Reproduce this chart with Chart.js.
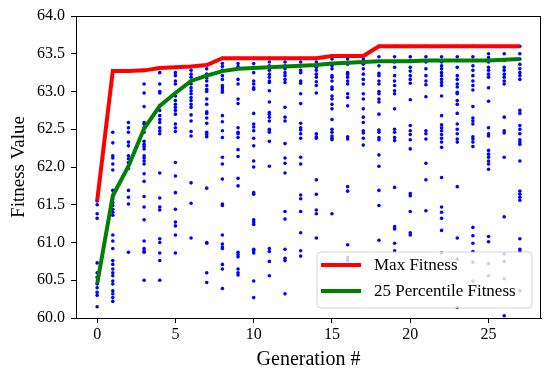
<!DOCTYPE html>
<html>
<head>
<meta charset="utf-8">
<script src="https://cdn.jsdelivr.net/npm/chart.js@4"></script>
<style>
  html, body { margin: 0; padding: 0; background: #fff; }
  #wrap { width: 550px; height: 379px; }
</style>
</head>
<body>
<div id="wrap"><canvas id="myChart" width="550" height="379"></canvas></div>
<script>
var generations = [0,1,2,3,4,5,6,7,8,9,10,11,12,13,14,15,16,17,18,19,20,21,22,23,24,25,26,27];
var xTicks = [0, 5, 10, 15, 20, 25];

var maxFitness = [61.55, 63.27, 63.27, 63.28, 63.31, 63.32, 63.33, 63.35, 63.44, 63.44,
  63.44, 63.44, 63.44, 63.44, 63.44, 63.47, 63.47, 63.47, 63.60, 63.60,
  63.60, 63.60, 63.60, 63.60, 63.60, 63.60, 63.60, 63.60];

var p25Fitness = [60.45, 61.62, 62.01, 62.51, 62.81, 62.98, 63.14, 63.21, 63.27, 63.30,
  63.31, 63.32, 63.33, 63.34, 63.35, 63.37, 63.38, 63.39, 63.40, 63.40,
  63.40, 63.41, 63.41, 63.41, 63.41, 63.41, 63.42, 63.43];

// fitness of every individual, one list per generation
var populationFitness = [
  [61.55, 61.50, 61.38, 61.32, 60.73, 60.60, 60.54, 60.45, 60.40, 60.34, 60.30, 60.15],
  [63.27, 62.46, 62.32, 62.15, 62.12, 62.04, 61.96, 61.69, 61.62, 61.58, 61.53, 61.49, 61.44, 61.40, 61.36, 61.10, 61.02, 60.92, 60.76, 60.71, 60.65, 60.60, 60.56, 60.49, 60.45, 60.36, 60.32, 60.27, 60.22],
  [63.27, 62.59, 62.52, 62.46, 62.33, 62.28, 62.15, 62.11, 62.06, 61.98, 61.69, 61.60, 61.51, 60.87],
  [63.28, 63.10, 62.98, 62.80, 62.59, 62.57, 62.52, 62.46, 62.34, 62.30, 62.27, 62.24, 62.15, 62.12, 62.08, 62.04, 61.91, 61.81, 61.61, 61.47, 61.30, 61.02, 60.92, 60.89, 60.87, 60.50],
  [63.31, 63.25, 63.10, 63.00, 62.98, 62.81, 62.75, 62.68, 62.63, 62.59, 62.52, 62.48, 62.44, 61.92, 61.59, 61.47, 61.43, 61.05, 61.00, 60.86, 60.76, 60.50],
  [63.32, 63.25, 63.21, 63.14, 63.10, 62.94, 62.88, 62.83, 62.79, 62.75, 62.70, 62.57, 62.52, 62.47, 62.06, 61.88, 61.66, 61.44, 61.27, 61.22, 61.10, 60.86],
  [63.33, 63.28, 63.23, 63.19, 63.14, 63.10, 63.05, 63.01, 62.97, 62.92, 62.88, 62.83, 62.79, 62.69, 62.61, 62.47, 62.41, 61.79, 61.52, 61.06],
  [63.35, 63.30, 63.23, 63.18, 63.14, 63.08, 63.03, 63.00, 62.90, 62.83, 62.73, 62.71, 62.65, 62.58, 62.46, 62.43, 62.40, 61.72, 61.00, 60.99, 60.60, 60.47],
  [63.44, 63.37, 63.33, 63.28, 63.21, 63.16, 63.08, 63.05, 63.02, 62.99, 62.68, 62.60, 62.48, 62.39, 62.13, 62.04, 61.84, 61.51, 61.49, 61.10, 60.98, 60.94, 60.92, 60.71, 60.65, 60.39],
  [63.44, 63.37, 63.33, 63.16, 63.10, 62.90, 62.84, 62.52, 62.46, 62.44, 62.39, 62.23, 62.14, 61.85, 61.75, 60.87, 60.84, 60.81, 60.65, 60.60, 60.57],
  [63.44, 63.37, 63.32, 63.25, 63.14, 63.10, 63.05, 63.03, 62.71, 62.57, 62.53, 62.48, 62.38, 62.28, 62.08, 62.00, 61.66, 61.64, 61.30, 61.27, 61.24, 60.91, 60.89, 60.86, 60.49, 60.27],
  [63.44, 63.39, 63.34, 63.28, 63.23, 63.19, 63.14, 63.12, 63.01, 62.86, 62.72, 62.70, 62.66, 62.61, 62.50, 62.48, 62.46, 62.34, 62.01, 60.92, 60.88, 60.75, 60.56],
  [63.44, 63.39, 63.34, 63.30, 63.25, 63.21, 63.16, 63.12, 62.79, 62.66, 62.61, 62.31, 62.12, 62.05, 61.92, 61.41, 61.31, 60.91, 60.79, 60.76, 60.32],
  [63.44, 63.39, 63.34, 63.28, 63.25, 63.14, 63.11, 62.97, 62.84, 62.58, 62.52, 62.49, 62.44, 62.38, 62.13, 62.04, 61.63, 61.58, 61.41, 61.13, 60.89, 60.82],
  [63.44, 63.39, 63.32, 63.28, 63.23, 63.19, 63.13, 63.08, 62.98, 62.44, 62.40, 62.38, 61.83, 61.64, 61.43, 61.38, 61.06],
  [63.47, 63.43, 63.34, 63.30, 63.21, 63.19, 63.14, 63.06, 63.03, 62.94, 62.90, 62.83, 62.77, 62.63, 62.50, 62.46, 62.41, 62.38, 62.36, 61.38],
  [63.47, 63.43, 63.36, 63.25, 63.23, 63.19, 63.14, 63.10, 62.97, 62.92, 62.81, 62.40, 62.37, 61.74, 61.68, 60.97, 60.80, 60.76],
  [63.47, 63.43, 63.36, 63.30, 63.23, 63.16, 63.10, 62.97, 62.90, 62.77, 62.66, 62.59, 62.48, 62.45, 62.38, 62.29],
  [63.60, 63.46, 63.34, 63.24, 63.21, 63.14, 63.10, 63.00, 62.97, 62.90, 62.86, 62.70, 62.49, 62.46, 62.39, 62.36, 62.16, 62.01, 61.69, 61.49, 61.03],
  [63.60, 63.46, 63.39, 63.32, 63.21, 63.14, 63.08, 63.01, 62.97, 62.77, 62.50, 62.46, 62.39, 62.35, 61.73, 61.21, 61.18, 60.99, 60.89],
  [63.60, 63.46, 63.41, 63.32, 63.27, 63.21, 63.16, 63.11, 62.89, 62.55, 62.48, 62.43, 62.36, 62.24, 61.65, 61.62, 61.41, 61.13, 61.10],
  [63.60, 63.46, 63.39, 63.30, 63.21, 63.14, 63.09, 62.93, 62.48, 62.44, 62.37, 62.05, 61.83, 61.42],
  [63.60, 63.46, 63.39, 63.34, 63.30, 63.25, 63.21, 63.16, 63.12, 63.08, 62.94, 62.68, 62.56, 62.52, 62.48, 62.43, 62.38, 62.33, 62.26, 61.86, 61.47, 61.40, 61.32, 61.16, 60.86],
  [63.60, 63.46, 63.41, 63.32, 63.21, 63.16, 63.10, 63.06, 62.99, 62.97, 62.88, 62.83, 62.71, 62.57, 62.50, 62.44, 62.37, 62.33, 61.74, 61.06, 60.78, 60.14],
  [63.60, 63.46, 63.41, 63.34, 63.28, 63.21, 63.14, 63.08, 63.02, 62.80, 62.65, 62.61, 62.57, 62.40, 62.37, 62.33, 62.27, 61.20, 61.09, 60.99, 60.88, 60.74, 60.49],
  [63.60, 63.50, 63.45, 63.39, 63.32, 63.28, 63.23, 63.19, 63.05, 62.87, 62.52, 62.44, 62.41, 62.22, 62.17, 62.13, 62.08, 62.04, 61.97, 61.08, 61.01, 60.72, 60.56],
  [63.60, 63.50, 63.41, 63.32, 63.28, 63.23, 63.19, 63.14, 63.10, 62.66, 62.48, 62.45, 62.13, 61.34, 60.85, 60.75, 60.52, 60.03],
  [63.60, 63.50, 63.43, 63.36, 63.30, 63.25, 63.21, 63.16, 62.75, 62.71, 62.55, 62.50, 62.44, 62.36, 62.33, 62.30, 62.08, 61.68, 61.64, 61.60, 61.56, 61.05, 60.91, 60.88, 60.36]
];

var FONT = "'Liberation Serif', 'Times New Roman', serif";

var scatterPoints = [];
generations.forEach(function (g, i) {
  populationFitness[i].forEach(function (v) { scatterPoints.push({ x: g, y: v }); });
});
var maxPoints = generations.map(function (g, i) { return { x: g, y: maxFitness[i] }; });
var p25Points = generations.map(function (g, i) { return { x: g, y: p25Fitness[i] }; });

// axes box + legend inside the plot, matplotlib style
var framePlugin = {
  id: 'frame',
  afterDatasetsDraw: function (chart) {
    var ctx = chart.ctx, a = chart.chartArea;
    ctx.save();
    ctx.strokeStyle = '#000';
    ctx.lineWidth = 1;
    ctx.strokeRect(a.left + 0.5, a.top + 0.5, a.right - a.left - 1, a.bottom - a.top);

    // legend
    var bx = 317, by = 252, bw = 215, bh = 56, r = 4;
    ctx.beginPath();
    ctx.moveTo(bx + r, by);
    ctx.arcTo(bx + bw, by, bx + bw, by + bh, r);
    ctx.arcTo(bx + bw, by + bh, bx, by + bh, r);
    ctx.arcTo(bx, by + bh, bx, by, r);
    ctx.arcTo(bx, by, bx + bw, by, r);
    ctx.closePath();
    ctx.fillStyle = 'rgba(255,255,255,0.8)';
    ctx.fill();
    ctx.strokeStyle = 'rgba(204,204,204,0.8)';
    ctx.stroke();

    var items = chart.data.datasets.filter(function (d) { return d.showInLegend; });
    ctx.font = '17px ' + FONT;
    ctx.textBaseline = 'middle';
    items.forEach(function (d, k) {
      var y = by + 13 + k * 26;
      ctx.strokeStyle = d.borderColor;
      ctx.lineWidth = 4;
      ctx.beginPath();
      ctx.moveTo(bx + 4, y);
      ctx.lineTo(bx + 44, y);
      ctx.stroke();
      ctx.fillStyle = '#000';
      ctx.fillText(d.label, bx + 57, y + 1);
    });
    ctx.restore();
  }
};

new Chart(document.getElementById('myChart').getContext('2d'), {
  type: 'scatter',
  data: {
    datasets: [
      {
        label: 'Max Fitness', type: 'line', data: maxPoints, showInLegend: true,
        borderColor: 'rgb(255,0,0)', borderWidth: 4, pointRadius: 0, fill: false, order: 0
      },
      {
        label: '25 Percentile Fitness', type: 'line', data: p25Points, showInLegend: true,
        borderColor: 'rgb(0,128,0)', borderWidth: 4, pointRadius: 0, fill: false, order: 0
      },
      {
        label: 'Population', data: scatterPoints,
        backgroundColor: 'rgb(0,0,255)', borderWidth: 0, pointRadius: 1.8, order: 1
      }
    ]
  },
  options: {
    responsive: false,
    animation: false,
    events: [],
    layout: { padding: { top: 16, right: 9, left: 0, bottom: 0 } },
    plugins: { legend: { display: false }, tooltip: { enabled: false } },
    scales: {
      x: {
        type: 'linear', min: -1.35, max: 28.35,
        afterBuildTicks: function (s) { s.ticks = xTicks.map(function (v) { return { value: v }; }); },
        afterFit: function (s) { s.height = 61; },
        grid: { drawOnChartArea: false, tickLength: 5, color: '#000' },
        border: { display: true, color: '#000' },
        ticks: { color: '#000', font: { family: FONT, size: 16 }, padding: 2, maxRotation: 0 },
        title: { display: true, text: 'Generation #', color: '#000', font: { family: FONT, size: 20 }, padding: { top: 0, bottom: 7 } }
      },
      y: {
        min: 60, max: 64,
        afterFit: function (s) { s.width = 76; },
        grid: { drawOnChartArea: false, tickLength: 5, color: '#000' },
        border: { display: true, color: '#000' },
        ticks: { color: '#000', stepSize: 0.5, font: { family: FONT, size: 16 }, padding: 6,
          callback: function (v) { return v.toFixed(1); } },
        title: { display: true, text: 'Fitness Value', color: '#000', font: { family: FONT, size: 19 }, padding: { top: 8, bottom: 0 } }
      }
    }
  },
  plugins: [framePlugin]
});
</script>
</body>
</html>
